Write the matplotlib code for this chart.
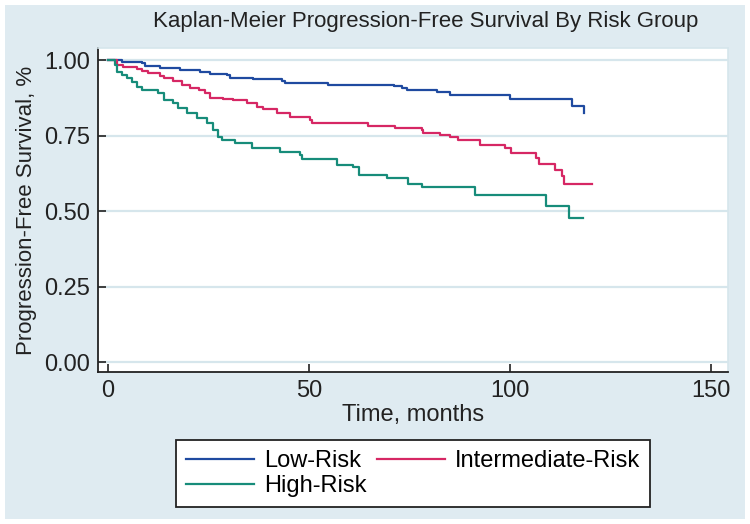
import matplotlib
matplotlib.use('Agg')
import matplotlib.pyplot as plt
from matplotlib.patches import Rectangle

# -------------------------[Data]-------------------------
# Kaplan-Meier steps (months, survival fraction)
low_t = [0, 3.4, 8.4, 9.2, 12.9, 17.9, 22.9, 25.4, 29.5, 30.3, 36, 43.2, 44, 49.4, 54.7,
         71, 73, 74.3, 81.7, 85, 100, 115.3, 118.4]
low_s = [1.0, 0.993, 0.989, 0.980, 0.974, 0.967, 0.959, 0.954, 0.950, 0.941, 0.937, 0.930,
         0.925, 0.923, 0.918, 0.914, 0.906, 0.901, 0.893, 0.885, 0.872, 0.849, 0.826]

mid_t = [0, 2.2, 3.8, 7.1, 8.4, 10, 12.9, 13.8, 16.2, 18.3, 20.4, 22.5, 24.1, 25.4, 28.7,
         31.2, 34.5, 37, 38.6, 42, 45.3, 50.2, 50.7, 58.5, 64.7, 71.4, 78, 78.4, 82.6, 85,
         87.1, 92.5, 98.8, 100.2, 106.5, 107.3, 111.2, 112.9, 113.4, 120.3]
mid_s = [1.0, 0.983, 0.978, 0.972, 0.965, 0.956, 0.947, 0.939, 0.932, 0.917, 0.908, 0.901,
         0.890, 0.875, 0.870, 0.868, 0.859, 0.845, 0.837, 0.826, 0.810, 0.801, 0.792, 0.790,
         0.781, 0.774, 0.768, 0.757, 0.752, 0.744, 0.735, 0.719, 0.708, 0.693, 0.675, 0.656,
         0.636, 0.616, 0.589, 0.589]

high_t = [0, 1.7, 2.2, 3.4, 4.6, 5.9, 7.1, 8.4, 12.5, 13.8, 16.2, 17.5, 19.6, 22.1, 24.6,
          26.2, 27.4, 28.3, 31.6, 35.7, 42.8, 47.8, 48.2, 55.2, 56.9, 61, 62.3, 69.5, 74.7,
          78, 91.3, 108.9, 114.7, 118.2]
high_s = [1.0, 0.983, 0.961, 0.950, 0.939, 0.928, 0.912, 0.901, 0.890, 0.868, 0.857, 0.840,
          0.824, 0.807, 0.790, 0.768, 0.746, 0.735, 0.724, 0.708, 0.696, 0.685, 0.674, 0.671,
          0.652, 0.645, 0.619, 0.608, 0.589, 0.580, 0.553, 0.518, 0.476, 0.476]

labels = ['Low-Risk', 'Intermediate-Risk', 'High-Risk']
colors = ['#1f4aa0', '#d62764', '#178c7a']
y_ticks = [0.0, 0.25, 0.5, 0.75, 1.0]
x_ticks = [0, 50, 100, 150]
# --------------------------------------------------------

plt.rcParams['font.family'] = ['Liberation Sans', 'DejaVu Sans']
bg = '#dfebf1'
grid_c = '#d6e6ec'

fig = plt.figure(figsize=(7.5, 5.24), dpi=100, facecolor='white')
fig.patches.append(Rectangle((5 / 750, 5 / 524), 740 / 750, 514 / 524, transform=fig.transFigure,
                             facecolor=bg, edgecolor='none', zorder=-10))

ax = fig.add_axes([98 / 750, 1 - 372 / 524, 630 / 750, 324 / 524])
ax.set_facecolor('white')

lines = []
for t, s, lab, c in zip([low_t, mid_t, high_t], [low_s, mid_s, high_s], labels, colors):
    ln, = ax.step(t, s, where='post', color=c, linewidth=1.6, label=lab)
    lines.append(ln)

ax.set_xlim(-2.5, 154.2)
ax.set_ylim(-0.033, 1.04)
ax.set_xticks(x_ticks)
ax.set_yticks(y_ticks)
ax.set_yticklabels(['{:.2f}'.format(v) for v in y_ticks])
for v in y_ticks:
    ax.axhline(v, color=grid_c, linewidth=1.6, zorder=0)

for side in ['top', 'right']:
    ax.spines[side].set_color(grid_c)
    ax.spines[side].set_linewidth(1.2)
for side in ['left', 'bottom']:
    ax.spines[side].set_color('#222222')
    ax.spines[side].set_linewidth(1.3)

ax.tick_params(axis='both', direction='in', length=6, width=1.2, colors='#222222',
               labelsize=17, labelcolor='#222222')
ax.tick_params(axis='y', pad=6)
ax.tick_params(axis='x', pad=6)

ax.set_xlabel('Time, months', fontsize=17, color='#222222', labelpad=1)
ax.set_ylabel('Progression-Free Survival, %', fontsize=16, color='#222222', labelpad=5)

fig.text(426 / 750, 1 - 22 / 524, 'Kaplan-Meier Progression-Free Survival By Risk Group',
         fontsize=16, ha='center', va='center', color='#222222')

# legend order so rows read Low / Intermediate, then High
leg = fig.legend([lines[0], lines[2], lines[1]], [labels[0], labels[2], labels[1]],
                 ncol=2, loc='center', bbox_to_anchor=(413 / 750, 1 - 473.7 / 524),
                 fontsize=17, frameon=True, fancybox=False, framealpha=1, handlelength=2.9,
                 handletextpad=0.42, columnspacing=0.42, labelspacing=0.12,
                 borderpad=0.42, borderaxespad=0)
leg.get_frame().set_edgecolor('#222222')
leg.get_frame().set_facecolor('white')
leg.get_frame().set_linewidth(1.3)
for h in leg.legend_handles:
    h.set_linewidth(1.6)

fig.savefig('out.png', dpi=100, facecolor=fig.get_facecolor())
